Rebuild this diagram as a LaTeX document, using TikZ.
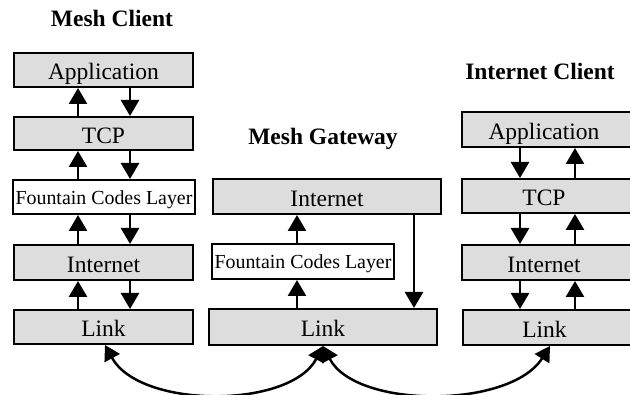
\documentclass[tikz,border=0pt]{standalone}
\usepackage{fontspec}
\setmainfont{Liberation Serif}
\usetikzlibrary{arrows.meta}
\definecolor{layergray}{RGB}{221,221,221}
\tikzset{
  layer/.style={draw=black, line width=2pt, fill=layergray, inner sep=0pt,
    text height=19.5pt, text depth=0pt, font=\fontsize{23.5}{26}\selectfont},
  fclayer/.style={draw=black, line width=2pt, fill=white, inner sep=0pt,
    text height=15pt, text depth=0pt, font=\fontsize{19.9}{22}\selectfont},
  heading/.style={font=\fontsize{23.5}{26}\selectfont\bfseries, inner sep=0pt},
  flow/.style={line width=2.7pt, -{Triangle[length=16pt,width=18pt]}},
  hop/.style={line width=2.5pt, {Triangle[length=15pt,width=17pt]}-{Triangle[length=15pt,width=17pt]}},
}
\begin{document}
\begin{tikzpicture}[x=1pt,y=-1pt]
\useasboundingbox (0,0) rectangle (630,395);
\clip (0,0) rectangle (630,395);

% Mesh client stack
\node[heading] (mctitle) at (112,18) {Mesh Client};
\node[layer, minimum width=179pt, minimum height=34pt] (mcapp) at (103.5,70) {Application};
\node[layer, minimum width=179pt, minimum height=33pt] (mctcp) at (103.5,133.5) {TCP};
\node[fclayer, minimum width=182pt, minimum height=34pt] (mcfcl) at (104,197) {Fountain Codes Layer};
\node[layer, minimum width=179pt, minimum height=35pt] (mcinet) at (103.5,262.5) {Internet};
\node[layer, minimum width=179pt, minimum height=34pt] (mclink) at (103.5,327) {Link};

% Mesh gateway stack
\node[heading] (mgtitle) at (323,139) {Mesh Gateway};
\node[layer, minimum width=228pt, minimum height=35pt] (mginet) at (327,196.5) {Internet};
\node[fclayer, minimum width=182pt, minimum height=35pt] (mgfcl) at (303,261.5) {Fountain Codes Layer};
\node[layer, minimum width=228pt, minimum height=36pt] (mglink) at (323,327) {Link};

% Internet client stack
\node[heading] (ictitle) at (540,71) {Internet Client};
\node[layer, minimum width=170pt, minimum height=35pt] (icapp) at (547,129.5) {\hspace*{-6pt}Application};
\node[layer, minimum width=170pt, minimum height=34pt] (ictcp) at (547,196) {\hspace*{-6pt}TCP};
\node[layer, minimum width=170pt, minimum height=35pt] (icinet) at (547,262.5) {\hspace*{-6pt}Internet};
\node[layer, minimum width=169pt, minimum height=35pt] (iclink) at (547.5,327.5) {\hspace*{-6pt}Link};

% columns of the vertical arrows
\coordinate (mcup) at (78,0);
\coordinate (mcdown) at (130,0);
\coordinate (mgup) at (297,0);
\coordinate (mgdown) at (414,0);
\coordinate (icdown) at (520,0);
\coordinate (icup) at (575,0);

% Mesh client: up and down the stack
\draw[flow] (mctcp.north -| mcup) -- (mcapp.south -| mcup);
\draw[flow] (mcfcl.north -| mcup) -- (mctcp.south -| mcup);
\draw[flow] (mcinet.north -| mcup) -- (mcfcl.south -| mcup);
\draw[flow] (mclink.north -| mcup) -- (mcinet.south -| mcup);
\draw[flow] (mcapp.south -| mcdown) -- (mctcp.north -| mcdown);
\draw[flow] (mctcp.south -| mcdown) -- (mcfcl.north -| mcdown);
\draw[flow] (mcfcl.south -| mcdown) -- (mcinet.north -| mcdown);
\draw[flow] (mcinet.south -| mcdown) -- (mclink.north -| mcdown);

% Mesh gateway
\draw[flow] (mglink.north -| mgup) -- (mgfcl.south -| mgup);
\draw[flow] (mgfcl.north -| mgup) -- (mginet.south -| mgup);
\draw[flow] (mginet.south -| mgdown) -- (mglink.north -| mgdown);

% Internet client
\draw[flow] (icapp.south -| icdown) -- (ictcp.north -| icdown);
\draw[flow] (ictcp.south -| icdown) -- (icinet.north -| icdown);
\draw[flow] (icinet.south -| icdown) -- (iclink.north -| icdown);
\draw[flow] (iclink.north -| icup) -- (icinet.south -| icup);
\draw[flow] (icinet.north -| icup) -- (ictcp.south -| icup);
\draw[flow] (ictcp.north -| icup) -- (icapp.south -| icup);

% wireless hops between the link layers
\coordinate (mcl) at ([xshift=1.5pt]mclink.south);
\coordinate (icl) at ([xshift=2.5pt]iclink.south);
\draw[hop] (mglink.south) .. controls (290,409) and (140,409) .. (mcl);
\draw[hop] (mglink.south) .. controls (356,409) and (510,409) .. (icl);
\end{tikzpicture}
\end{document}
